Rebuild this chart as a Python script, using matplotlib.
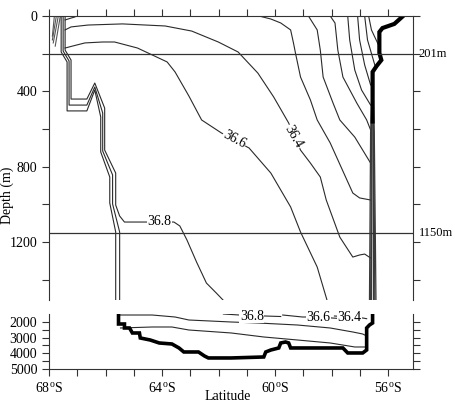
import matplotlib.pyplot as plt

plt.rcParams['font.family'] = ['Liberation Serif', 'DejaVu Serif']
plt.rcParams['font.size'] = 10

# ---- upper panel (0-1500 m), latitude in deg S, depth in m ----
fan_lat = [[67.81, 67.88], [67.74, 67.88], [67.67, 67.85], [67.60, 67.78]]
fan_dep = [[0, 107], [0, 127], [0, 143], [0, 160]]

blip_lat = [67.43, 67.22, 67.08, 67.04]
blip_dep = [21, 11, 5, 0]

frontL_lat = [67.57, 67.57, 67.36, 67.36, 66.66, 66.38, 66.17, 66.17, 65.85, 65.85, 65.64, 65.64]
frontL_dep = [0, 191, 244, 504, 504, 393, 536, 722, 855, 993, 1147, 1510]
frontM_lat = [67.50, 67.50, 67.29, 67.29, 66.66, 66.38, 66.10, 66.10, 65.75, 65.75, 65.50, 65.50]
frontM_dep = [0, 186, 239, 473, 473, 377, 515, 717, 844, 998, 1147, 1510]

c368_lat = [67.43, 67.43, 67.22, 67.22, 66.66, 66.38, 66.03, 66.03, 65.64, 65.64, 65.50, 65.33,
            64.63, 63.58, 63.37, 63.12, 62.78, 62.43, 62.08, 61.83]
c368_dep = [0, 181, 234, 441, 441, 356, 489, 712, 834, 1004, 1062, 1094,
            1094, 1094, 1115, 1189, 1306, 1418, 1471, 1510]

c364_lat = [67.43, 67.22, 66.62, 65.40, 63.89, 62.95, 62.01, 61.31, 60.61, 60.05, 59.52, 59.10,
            58.75, 58.40, 58.19, 57.71, 57.25, 57.01, 56.83, 56.62]
c364_dep = [74, 58, 48, 42, 53, 80, 138, 191, 303, 430, 568, 712,
            781, 855, 977, 1174, 1280, 1269, 1264, 1285]

c366_lat = [67.43, 67.15, 66.73, 66.10, 65.68, 64.87, 63.82, 63.54, 63.05, 62.60, 61.90, 61.45,
            60.92, 60.15, 59.45, 59.10, 58.51, 58.16]
c366_dep = [170, 159, 143, 138, 138, 170, 244, 297, 425, 552, 621, 658,
            701, 834, 1014, 1147, 1333, 1510]

east_lat = [
    [60.57, 60.15, 59.80, 59.45, 59.35, 59.28, 59.10, 58.75, 58.51, 58.05, 57.25, 57.01, 56.62],
    [58.82, 58.51, 58.40, 58.30, 57.95, 57.71, 57.18, 56.62],
    [58.05, 57.88, 57.78, 57.60, 57.11, 56.76, 56.62],
    [57.43, 57.36, 57.18, 56.94, 56.62],
    [57.08, 57.01, 56.83, 56.62],
    [56.83, 56.73, 56.45],
    [56.69, 56.59, 56.34],
]
east_dep = [
    [0, 16, 37, 74, 143, 196, 324, 446, 552, 674, 940, 966, 977],
    [0, 74, 181, 324, 462, 552, 643, 781],
    [0, 37, 181, 324, 462, 552, 605],
    [0, 127, 287, 393, 473],
    [0, 127, 260, 366],
    [0, 127, 271],
    [0, 74, 154],
]

wall_lat = [55.47, 55.78, 56.20, 56.31, 56.31, 56.24, 56.41, 56.55, 56.55]
wall_dep = [0, 42, 64, 85, 196, 234, 266, 297, 560]

bundle_lat = [[56.55, 56.62, 56.66], [56.55, 56.59, 56.62], [56.55, 56.57, 56.59],
              [56.55, 56.55, 56.55], [56.55, 56.53, 56.51], [56.55, 56.51, 56.47],
              [56.55, 56.49, 56.43]]
bundle_dep = [297, 620, 1510]

ref_depths = [201, 1150]
ref_labels = ['201m', '1150m']

# ---- lower panel (1500-5000 m) ----
bot_lat = [65.54, 65.54, 65.33, 65.33, 65.15, 65.05, 64.80, 64.77, 64.42, 64.10, 63.65, 63.40,
           63.23, 62.71, 62.50, 62.36, 61.55, 60.40, 60.33, 60.15, 59.87, 59.80, 59.63, 59.52,
           59.45, 57.60, 57.43, 56.90, 56.76, 56.76, 56.66, 56.55, 56.55]
bot_dep = [1500, 2136, 2136, 2390, 2390, 2708, 2708, 3026, 3154, 3344, 3408, 3662,
           3917, 3917, 4171, 4298, 4298, 4235, 3917, 3790, 3662, 3344, 3281, 3344,
           3662, 3662, 3980, 3980, 3790, 2390, 2200, 2072, 1500]

deep_lat = [
    [65.47, 64.35, 63.54, 63.05, 61.55, 60.61, 59.21, 58.05, 57.25, 56.90, 56.76],
    [65.47, 64.35, 63.65, 63.05, 61.55, 60.40, 59.21, 58.05, 57.18, 56.76],
]
deep_dep = [
    [1564, 1564, 1691, 1882, 2009, 2072, 2200, 2390, 2645, 2772, 2899],
    [2390, 2327, 2327, 2518, 2708, 2963, 3154, 3344, 3599, 3599],
]

d368_lat = [61.83, 61.27, 60.36, 59.80]
d368_dep = [1500, 1564, 1627, 1660]
d366_lat = [59.73, 59.03, 58.47, 57.99, 57.60]
d366_dep = [1564, 1691, 1691, 1754, 1800]
d364_lat = [57.90, 57.36, 56.90, 56.76]
d364_dep = [1627, 1691, 1754, 1800]

lab_top = [('36.8', 64.10, 1089, 0), ('36.6', 61.45, 658, -28), ('36.4', 59.35, 643, -60)]
lab_bot = [('36.8', 60.82, 1640, 0), ('36.6', 58.47, 1700, 0), ('36.4', 57.36, 1700, 0)]

xticks_major = [68, 64, 60, 56]
xticks_minor = list(range(57, 68))

W, H = 455, 403
fig = plt.figure(figsize=(W / 100, H / 100), dpi=100)
ax1 = fig.add_axes([49 / W, 1 - 300 / H, 364 / W, 284 / H])
ax2 = fig.add_axes([49 / W, 1 - 369 / H, 364 / W, 55 / H])

lc = '#2a2a2a'
lw = 0.8

for la, de in zip(fan_lat, fan_dep):
    ax1.plot(la, de, color='#555555', lw=0.8)
ax1.plot(blip_lat, blip_dep, color=lc, lw=lw)
for la, de in [(frontL_lat, frontL_dep), (frontM_lat, frontM_dep), (c368_lat, c368_dep),
               (c364_lat, c364_dep), (c366_lat, c366_dep)]:
    ax1.plot(la, de, color=lc, lw=lw)
for la, de in zip(east_lat, east_dep):
    ax1.plot(la, de, color=lc, lw=lw)
for la in bundle_lat:
    ax1.plot(la, bundle_dep, color='#3a3a3a', lw=0.9)
ax1.plot(wall_lat, wall_dep, color='black', lw=3, solid_joinstyle='miter')
for d in ref_depths:
    ax1.axhline(d, color='#333333', lw=0.9)
for d, t in zip(ref_depths, ref_labels):
    ax1.text(1.016, d, t, transform=ax1.get_yaxis_transform(), ha='left', va='center', fontsize=9)
for t, la, de, r in lab_top:
    ax1.text(la, de, t, rotation=r, ha='center', va='center', fontsize=10,
             bbox=dict(facecolor='white', edgecolor='none', pad=0.5), zorder=5)

for la, de in zip(deep_lat, deep_dep):
    ax2.plot(la, de, color=lc, lw=lw)
for la, de in [(d368_lat, d368_dep), (d366_lat, d366_dep), (d364_lat, d364_dep)]:
    ax2.plot(la, de, color=lc, lw=lw)
ax2.plot(bot_lat, bot_dep, color='black', lw=2.6, solid_joinstyle='miter')
for t, la, de, r in lab_bot:
    ax2.text(la, de, t, rotation=r, ha='center', va='center', fontsize=10,
             bbox=dict(facecolor='white', edgecolor='none', pad=0.3), zorder=5)

for ax in (ax1, ax2):
    ax.set_xlim(68, 55.12)
    ax.set_xticks(xticks_major)
    ax.set_xticks(xticks_minor, minor=True)
    ax.tick_params(which='both', direction='out', length=5, width=0.8, color='#333333',
                   left=True, right=True, labelsize=10)
    for s in ax.spines.values():
        s.set_linewidth(0.8)
        s.set_color('#333333')

ax1.set_ylim(1508, 0)
ax1.set_yticks(range(0, 1401, 200))
ax1.set_yticklabels(['0', '', '400', '', '800', '', '1200', ''])
ax1.spines['bottom'].set_visible(False)
ax1.tick_params(which='both', top=True, bottom=False, labelbottom=False)

ax2.set_ylim(5000, 1500)
ax2.set_yticks(range(2000, 5001, 500))
ax2.set_yticklabels(['2000', '', '3000', '', '4000', '', '5000'])
ax2.spines['top'].set_visible(False)
ax2.tick_params(which='both', top=False, bottom=True)
ax2.set_xticklabels([f'{v}$^\\mathregular{{o}}$S' for v in xticks_major])

fig.text(228 / W, 1 - 397 / H, 'Latitude', ha='center', va='center', fontsize=10)
fig.text(7 / W, 1 - 195 / H, 'Depth (m)', rotation=90, ha='center', va='center', fontsize=10)

fig.savefig('out.png', dpi=100)
